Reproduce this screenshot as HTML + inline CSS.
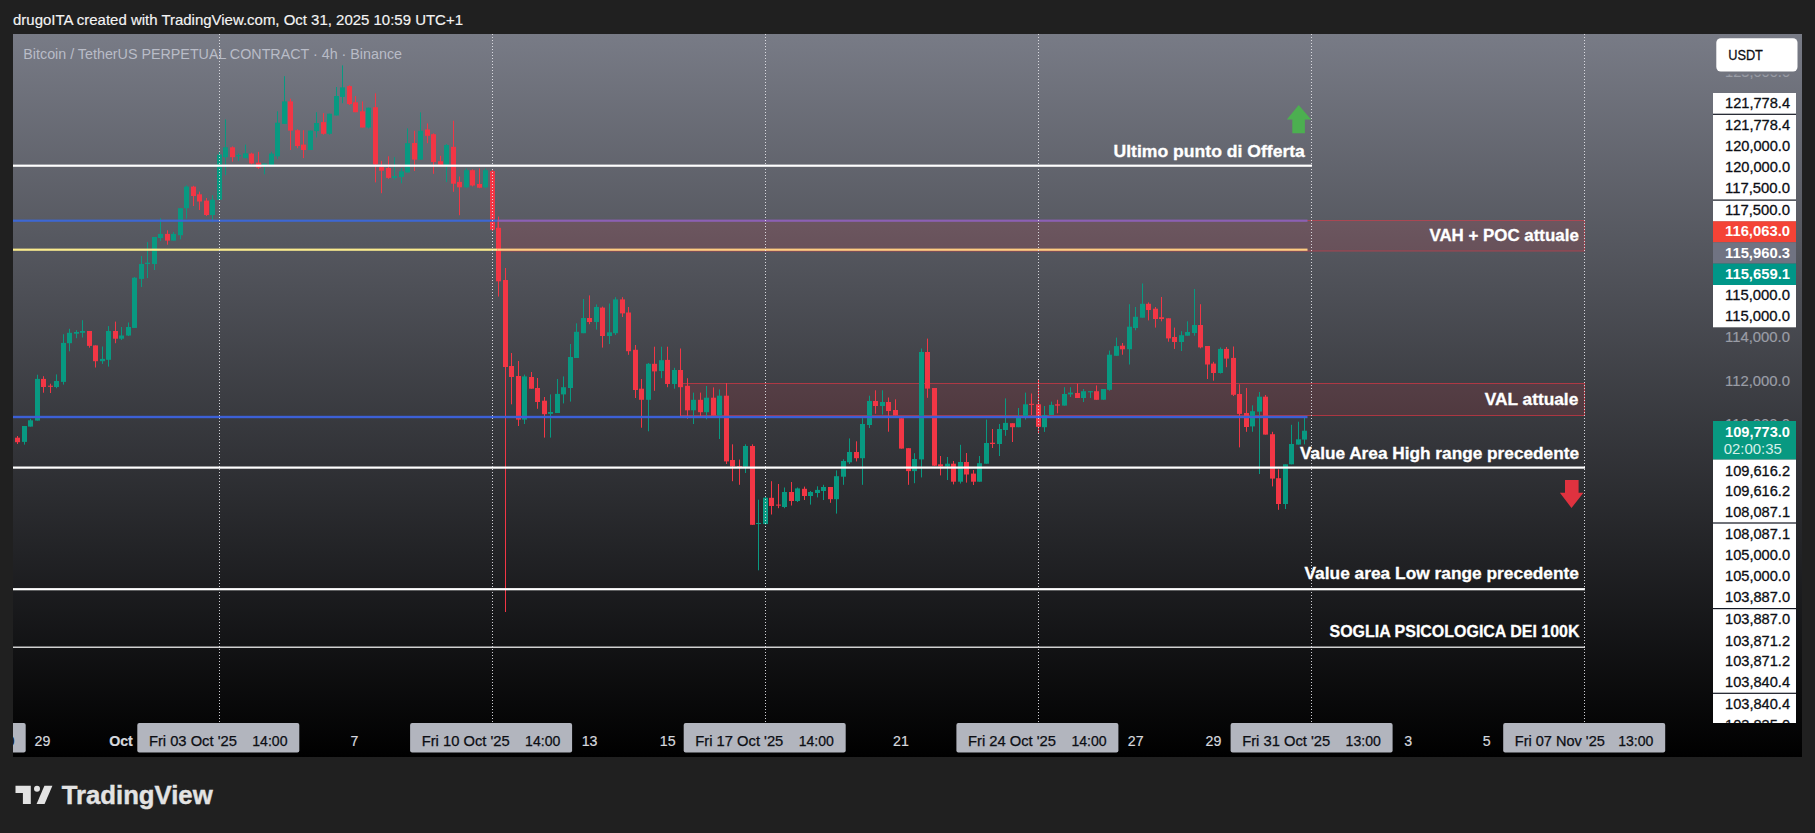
<!DOCTYPE html>
<html lang="it"><head><meta charset="utf-8"><title>BTCUSDT.P 4h - TradingView</title>
<style>
html,body{margin:0;padding:0;background:#202020;}
body{width:1815px;height:833px;overflow:hidden;position:relative;font-family:"Liberation Sans", sans-serif;}
svg{position:absolute;left:0;top:0;display:block}
text{font-family:"Liberation Sans", sans-serif;}
.ax{font-size:14.8px;fill:#0c0e14;text-anchor:end;stroke:#0c0e14;stroke-width:0.3px}
.axg{font-size:14.8px;fill:#9a9da6;text-anchor:end;stroke:#9a9da6;stroke-width:0.2px}
.axw{font-size:14.8px;fill:#ffffff;text-anchor:end;font-weight:bold}
.tl{font-size:14.2px;fill:#d6d8de;text-anchor:middle;stroke:#d6d8de;stroke-width:0.2px}
.tb{font-size:14.2px;fill:#0c0e14;stroke:#0c0e14;stroke-width:0.25px}
.an{font-size:16.8px;font-weight:bold;fill:#ffffff;text-anchor:end;stroke:#ffffff;stroke-width:0.3px}
</style></head><body>
<svg width="1815" height="833" viewBox="0 0 1815 833">
<defs>
<linearGradient id="bg" x1="0" y1="0" x2="0" y2="1"><stop offset="0" stop-color="#787b86"/><stop offset="1" stop-color="#000000"/></linearGradient>
<clipPath id="pane"><rect x="13" y="34" width="1789" height="689"/></clipPath>
<clipPath id="c123"><rect x="1700" y="74.6" width="102" height="10"/></clipPath>
<clipPath id="tax"><rect x="13" y="720" width="1789" height="37"/></clipPath>
<clipPath id="axc"><rect x="1700" y="72" width="102" height="651"/></clipPath>
</defs>
<rect x="0" y="0" width="1815" height="833" fill="#202020"/>
<rect x="13" y="34" width="1789" height="723" fill="url(#bg)"/>

<text x="13" y="24.5" font-size="14" fill="#f4f4f4" stroke="#f4f4f4" stroke-width="0.15" textLength="450" lengthAdjust="spacingAndGlyphs">drugoITA created with TradingView.com, Oct 31, 2025 10:59 UTC+1</text>
<text x="23.3" y="58.5" font-size="14" fill="#b9bcc7" textLength="378.7" lengthAdjust="spacingAndGlyphs">Bitcoin / TetherUS PERPETUAL CONTRACT · 4h · Binance</text>
<rect x="497.5" y="220.5" width="1087" height="30.5" fill="#f23645" fill-opacity="0.13" stroke="#f23645" stroke-opacity="0.5" stroke-width="1"/>
<rect x="680.5" y="383.5" width="904" height="32" fill="#f23645" fill-opacity="0.13" stroke="#f23645" stroke-opacity="0.6" stroke-width="1"/>
<g clip-path="url(#pane)" shape-rendering="auto">
<rect x="17.0" y="436.0" width="1" height="8.0" fill="#f23645"/>
<rect x="15.0" y="437.7" width="5" height="4.5" fill="#f23645"/>
<rect x="24.0" y="426.0" width="1" height="18.6" fill="#089981"/>
<rect x="22.0" y="426.0" width="5" height="15.9" fill="#089981"/>
<rect x="30.0" y="418.8" width="1" height="7.8" fill="#089981"/>
<rect x="28.0" y="420.3" width="5" height="6.3" fill="#089981"/>
<rect x="37.0" y="374.7" width="1" height="45.9" fill="#089981"/>
<rect x="35.0" y="378.9" width="5" height="41.7" fill="#089981"/>
<rect x="43.0" y="376.2" width="1" height="16.5" fill="#f23645"/>
<rect x="41.0" y="378.9" width="5" height="8.1" fill="#f23645"/>
<rect x="50.0" y="383.7" width="1" height="9.3" fill="#f23645"/>
<rect x="48.0" y="385.7" width="5" height="1.1" fill="#f23645"/>
<rect x="56.0" y="374.4" width="1" height="13.8" fill="#089981"/>
<rect x="54.0" y="381.0" width="5" height="6.0" fill="#089981"/>
<rect x="63.0" y="334.2" width="1" height="50.4" fill="#089981"/>
<rect x="61.0" y="342.9" width="5" height="39.0" fill="#089981"/>
<rect x="69.0" y="328.8" width="1" height="22.5" fill="#089981"/>
<rect x="67.0" y="332.8" width="5" height="10.4" fill="#089981"/>
<rect x="76.0" y="330.2" width="1" height="8.0" fill="#089981"/>
<rect x="74.0" y="332.0" width="5" height="1.7" fill="#089981"/>
<rect x="82.0" y="320.2" width="1" height="17.3" fill="#089981"/>
<rect x="80.0" y="331.0" width="5" height="1.8" fill="#089981"/>
<rect x="89.0" y="331.0" width="1" height="16.7" fill="#f23645"/>
<rect x="87.0" y="331.0" width="5" height="14.9" fill="#f23645"/>
<rect x="95.0" y="345.4" width="1" height="22.1" fill="#f23645"/>
<rect x="93.0" y="345.4" width="5" height="15.8" fill="#f23645"/>
<rect x="102.0" y="346.5" width="1" height="17.4" fill="#089981"/>
<rect x="100.0" y="358.9" width="5" height="2.3" fill="#089981"/>
<rect x="108.0" y="326.1" width="1" height="40.5" fill="#089981"/>
<rect x="106.0" y="331.0" width="5" height="28.8" fill="#089981"/>
<rect x="115.0" y="321.6" width="1" height="21.6" fill="#f23645"/>
<rect x="113.0" y="331.0" width="5" height="7.7" fill="#f23645"/>
<rect x="121.0" y="327.0" width="1" height="13.0" fill="#089981"/>
<rect x="119.0" y="335.5" width="5" height="3.2" fill="#089981"/>
<rect x="128.0" y="322.5" width="1" height="13.5" fill="#089981"/>
<rect x="126.0" y="327.0" width="5" height="8.5" fill="#089981"/>
<rect x="134.0" y="277.0" width="1" height="51.0" fill="#089981"/>
<rect x="132.0" y="277.7" width="5" height="50.2" fill="#089981"/>
<rect x="141.0" y="256.0" width="1" height="31.0" fill="#089981"/>
<rect x="139.0" y="264.0" width="5" height="14.9" fill="#089981"/>
<rect x="147.0" y="242.0" width="1" height="36.0" fill="#089981"/>
<rect x="145.0" y="262.7" width="5" height="1.3" fill="#089981"/>
<rect x="154.0" y="237.0" width="1" height="33.0" fill="#089981"/>
<rect x="152.0" y="237.0" width="5" height="27.0" fill="#089981"/>
<rect x="160.0" y="218.3" width="1" height="22.7" fill="#089981"/>
<rect x="158.0" y="233.9" width="5" height="4.1" fill="#089981"/>
<rect x="167.0" y="230.3" width="1" height="14.4" fill="#f23645"/>
<rect x="165.0" y="233.9" width="5" height="6.7" fill="#f23645"/>
<rect x="173.0" y="232.0" width="1" height="8.6" fill="#089981"/>
<rect x="171.0" y="233.9" width="5" height="6.7" fill="#089981"/>
<rect x="180.0" y="208.2" width="1" height="31.1" fill="#089981"/>
<rect x="178.0" y="208.2" width="5" height="27.0" fill="#089981"/>
<rect x="186.0" y="185.3" width="1" height="33.3" fill="#089981"/>
<rect x="184.0" y="186.6" width="5" height="21.6" fill="#089981"/>
<rect x="193.0" y="185.8" width="1" height="20.2" fill="#f23645"/>
<rect x="191.0" y="186.6" width="5" height="9.4" fill="#f23645"/>
<rect x="199.0" y="191.6" width="1" height="18.4" fill="#f23645"/>
<rect x="197.0" y="194.3" width="5" height="7.2" fill="#f23645"/>
<rect x="206.0" y="198.0" width="1" height="18.0" fill="#f23645"/>
<rect x="204.0" y="200.6" width="5" height="14.4" fill="#f23645"/>
<rect x="212.0" y="195.2" width="1" height="27.0" fill="#089981"/>
<rect x="210.0" y="199.7" width="5" height="15.3" fill="#089981"/>
<rect x="219.0" y="152.0" width="1" height="48.0" fill="#089981"/>
<rect x="217.0" y="154.5" width="5" height="45.2" fill="#089981"/>
<rect x="225.0" y="119.4" width="1" height="55.8" fill="#089981"/>
<rect x="223.0" y="147.3" width="5" height="9.9" fill="#089981"/>
<rect x="232.0" y="146.4" width="1" height="15.3" fill="#f23645"/>
<rect x="230.0" y="147.3" width="5" height="9.9" fill="#f23645"/>
<rect x="238.0" y="153.6" width="1" height="7.2" fill="#089981"/>
<rect x="236.0" y="155.0" width="5" height="1.3" fill="#089981"/>
<rect x="245.0" y="144.6" width="1" height="13.5" fill="#089981"/>
<rect x="243.0" y="153.3" width="5" height="4.8" fill="#089981"/>
<rect x="251.0" y="152.7" width="1" height="11.7" fill="#f23645"/>
<rect x="249.0" y="153.6" width="5" height="9.9" fill="#f23645"/>
<rect x="258.0" y="151.8" width="1" height="17.2" fill="#f23645"/>
<rect x="256.0" y="162.6" width="5" height="5.1" fill="#f23645"/>
<rect x="264.0" y="163.5" width="1" height="10.8" fill="#089981"/>
<rect x="262.0" y="163.5" width="5" height="1.8" fill="#089981"/>
<rect x="271.0" y="151.8" width="1" height="13.5" fill="#089981"/>
<rect x="269.0" y="153.6" width="5" height="11.7" fill="#089981"/>
<rect x="277.0" y="111.3" width="1" height="47.7" fill="#089981"/>
<rect x="275.0" y="122.7" width="5" height="33.6" fill="#089981"/>
<rect x="284.0" y="76.2" width="1" height="47.7" fill="#089981"/>
<rect x="282.0" y="101.4" width="5" height="22.5" fill="#089981"/>
<rect x="290.0" y="98.7" width="1" height="51.3" fill="#f23645"/>
<rect x="288.0" y="101.4" width="5" height="29.2" fill="#f23645"/>
<rect x="297.0" y="129.3" width="1" height="18.9" fill="#f23645"/>
<rect x="295.0" y="130.2" width="5" height="15.8" fill="#f23645"/>
<rect x="303.0" y="130.2" width="1" height="27.9" fill="#f23645"/>
<rect x="301.0" y="144.6" width="5" height="5.4" fill="#f23645"/>
<rect x="310.0" y="130.6" width="1" height="19.4" fill="#089981"/>
<rect x="308.0" y="130.6" width="5" height="19.4" fill="#089981"/>
<rect x="316.0" y="112.2" width="1" height="25.2" fill="#089981"/>
<rect x="314.0" y="123.0" width="5" height="8.1" fill="#089981"/>
<rect x="323.0" y="113.1" width="1" height="21.6" fill="#f23645"/>
<rect x="321.0" y="122.1" width="5" height="11.7" fill="#f23645"/>
<rect x="329.0" y="113.7" width="1" height="21.0" fill="#089981"/>
<rect x="327.0" y="113.7" width="5" height="20.1" fill="#089981"/>
<rect x="336.0" y="87.0" width="1" height="28.5" fill="#089981"/>
<rect x="334.0" y="96.0" width="5" height="19.5" fill="#089981"/>
<rect x="342.0" y="65.4" width="1" height="37.8" fill="#089981"/>
<rect x="340.0" y="87.4" width="5" height="9.5" fill="#089981"/>
<rect x="349.0" y="85.2" width="1" height="19.8" fill="#f23645"/>
<rect x="347.0" y="86.1" width="5" height="18.0" fill="#f23645"/>
<rect x="355.0" y="96.0" width="1" height="16.2" fill="#f23645"/>
<rect x="353.0" y="102.3" width="5" height="9.9" fill="#f23645"/>
<rect x="362.0" y="101.4" width="1" height="26.1" fill="#f23645"/>
<rect x="360.0" y="111.3" width="5" height="16.2" fill="#f23645"/>
<rect x="368.0" y="107.7" width="1" height="20.7" fill="#089981"/>
<rect x="366.0" y="107.7" width="5" height="19.8" fill="#089981"/>
<rect x="375.0" y="93.3" width="1" height="89.1" fill="#f23645"/>
<rect x="373.0" y="107.2" width="5" height="57.2" fill="#f23645"/>
<rect x="381.0" y="160.8" width="1" height="32.4" fill="#f23645"/>
<rect x="379.0" y="167.1" width="5" height="3.6" fill="#f23645"/>
<rect x="388.0" y="156.3" width="1" height="22.5" fill="#f23645"/>
<rect x="386.0" y="168.0" width="5" height="9.9" fill="#f23645"/>
<rect x="394.0" y="157.2" width="1" height="22.5" fill="#089981"/>
<rect x="392.0" y="176.1" width="5" height="1.8" fill="#089981"/>
<rect x="401.0" y="168.0" width="1" height="15.3" fill="#089981"/>
<rect x="399.0" y="171.3" width="5" height="5.7" fill="#089981"/>
<rect x="407.0" y="128.4" width="1" height="44.1" fill="#089981"/>
<rect x="405.0" y="143.2" width="5" height="29.3" fill="#089981"/>
<rect x="414.0" y="130.8" width="1" height="40.2" fill="#f23645"/>
<rect x="412.0" y="143.0" width="5" height="16.6" fill="#f23645"/>
<rect x="420.0" y="112.4" width="1" height="47.2" fill="#089981"/>
<rect x="418.0" y="130.8" width="5" height="28.8" fill="#089981"/>
<rect x="427.0" y="123.4" width="1" height="19.8" fill="#f23645"/>
<rect x="425.0" y="129.5" width="5" height="6.3" fill="#f23645"/>
<rect x="433.0" y="133.3" width="1" height="40.5" fill="#f23645"/>
<rect x="431.0" y="134.2" width="5" height="27.9" fill="#f23645"/>
<rect x="440.0" y="155.8" width="1" height="9.9" fill="#f23645"/>
<rect x="438.0" y="161.2" width="5" height="3.6" fill="#f23645"/>
<rect x="446.0" y="144.0" width="1" height="38.0" fill="#089981"/>
<rect x="444.0" y="145.0" width="5" height="19.8" fill="#089981"/>
<rect x="453.0" y="120.7" width="1" height="71.1" fill="#f23645"/>
<rect x="451.0" y="146.8" width="5" height="36.9" fill="#f23645"/>
<rect x="459.0" y="176.5" width="1" height="38.7" fill="#f23645"/>
<rect x="457.0" y="181.9" width="5" height="5.4" fill="#f23645"/>
<rect x="466.0" y="168.4" width="1" height="19.8" fill="#089981"/>
<rect x="464.0" y="170.2" width="5" height="17.1" fill="#089981"/>
<rect x="472.0" y="169.3" width="1" height="17.1" fill="#f23645"/>
<rect x="470.0" y="170.2" width="5" height="15.3" fill="#f23645"/>
<rect x="479.0" y="168.4" width="1" height="19.8" fill="#f23645"/>
<rect x="477.0" y="184.0" width="5" height="3.7" fill="#f23645"/>
<rect x="485.0" y="168.4" width="1" height="19.8" fill="#089981"/>
<rect x="483.0" y="170.2" width="5" height="17.1" fill="#089981"/>
<rect x="492.0" y="169.0" width="1" height="62.0" fill="#f23645"/>
<rect x="490.0" y="171.1" width="5" height="58.7" fill="#f23645"/>
<rect x="498.0" y="216.6" width="1" height="79.9" fill="#f23645"/>
<rect x="496.0" y="227.8" width="5" height="53.5" fill="#f23645"/>
<rect x="505.0" y="268.0" width="1" height="344.0" fill="#f23645"/>
<rect x="503.0" y="280.0" width="5" height="87.0" fill="#f23645"/>
<rect x="511.0" y="353.0" width="1" height="51.3" fill="#f23645"/>
<rect x="509.0" y="366.0" width="5" height="11.0" fill="#f23645"/>
<rect x="518.0" y="361.0" width="1" height="65.0" fill="#f23645"/>
<rect x="516.0" y="376.0" width="5" height="43.6" fill="#f23645"/>
<rect x="524.0" y="374.6" width="1" height="49.4" fill="#089981"/>
<rect x="522.0" y="376.4" width="5" height="43.2" fill="#089981"/>
<rect x="531.0" y="372.0" width="1" height="16.7" fill="#f23645"/>
<rect x="529.0" y="377.0" width="5" height="11.7" fill="#f23645"/>
<rect x="537.0" y="378.0" width="1" height="30.8" fill="#f23645"/>
<rect x="535.0" y="388.0" width="5" height="14.0" fill="#f23645"/>
<rect x="544.0" y="397.0" width="1" height="40.6" fill="#f23645"/>
<rect x="542.0" y="400.7" width="5" height="13.5" fill="#f23645"/>
<rect x="550.0" y="394.4" width="1" height="43.2" fill="#089981"/>
<rect x="548.0" y="412.0" width="5" height="1.9" fill="#089981"/>
<rect x="557.0" y="379.0" width="1" height="34.0" fill="#089981"/>
<rect x="555.0" y="393.9" width="5" height="19.1" fill="#089981"/>
<rect x="563.0" y="376.4" width="1" height="27.0" fill="#089981"/>
<rect x="561.0" y="387.2" width="5" height="7.2" fill="#089981"/>
<rect x="570.0" y="344.0" width="1" height="57.6" fill="#089981"/>
<rect x="568.0" y="357.0" width="5" height="31.0" fill="#089981"/>
<rect x="576.0" y="323.3" width="1" height="34.7" fill="#089981"/>
<rect x="574.0" y="331.8" width="5" height="26.2" fill="#089981"/>
<rect x="583.0" y="299.0" width="1" height="34.2" fill="#089981"/>
<rect x="581.0" y="318.0" width="5" height="15.2" fill="#089981"/>
<rect x="589.0" y="295.4" width="1" height="28.8" fill="#f23645"/>
<rect x="587.0" y="318.0" width="5" height="4.0" fill="#f23645"/>
<rect x="596.0" y="304.4" width="1" height="25.2" fill="#089981"/>
<rect x="594.0" y="307.0" width="5" height="15.0" fill="#089981"/>
<rect x="602.0" y="306.6" width="1" height="41.0" fill="#f23645"/>
<rect x="600.0" y="307.6" width="5" height="28.4" fill="#f23645"/>
<rect x="609.0" y="303.5" width="1" height="40.5" fill="#089981"/>
<rect x="607.0" y="332.3" width="5" height="3.7" fill="#089981"/>
<rect x="615.0" y="297.2" width="1" height="37.8" fill="#089981"/>
<rect x="613.0" y="299.4" width="5" height="33.8" fill="#089981"/>
<rect x="622.0" y="297.2" width="1" height="19.8" fill="#f23645"/>
<rect x="620.0" y="299.4" width="5" height="14.0" fill="#f23645"/>
<rect x="628.0" y="307.0" width="1" height="47.8" fill="#f23645"/>
<rect x="626.0" y="312.5" width="5" height="38.7" fill="#f23645"/>
<rect x="635.0" y="345.0" width="1" height="53.0" fill="#f23645"/>
<rect x="633.0" y="349.8" width="5" height="40.2" fill="#f23645"/>
<rect x="641.0" y="379.0" width="1" height="48.7" fill="#f23645"/>
<rect x="639.0" y="388.7" width="5" height="11.1" fill="#f23645"/>
<rect x="648.0" y="363.0" width="1" height="68.3" fill="#089981"/>
<rect x="646.0" y="363.8" width="5" height="36.0" fill="#089981"/>
<rect x="654.0" y="346.7" width="1" height="44.1" fill="#f23645"/>
<rect x="652.0" y="363.8" width="5" height="7.6" fill="#f23645"/>
<rect x="661.0" y="346.7" width="1" height="31.5" fill="#089981"/>
<rect x="659.0" y="360.2" width="5" height="10.8" fill="#089981"/>
<rect x="667.0" y="346.7" width="1" height="40.5" fill="#f23645"/>
<rect x="665.0" y="359.9" width="5" height="24.1" fill="#f23645"/>
<rect x="674.0" y="367.8" width="1" height="20.9" fill="#089981"/>
<rect x="672.0" y="370.0" width="5" height="14.0" fill="#089981"/>
<rect x="680.0" y="348.5" width="1" height="67.5" fill="#f23645"/>
<rect x="678.0" y="370.0" width="5" height="17.2" fill="#f23645"/>
<rect x="687.0" y="378.2" width="1" height="40.5" fill="#f23645"/>
<rect x="685.0" y="385.8" width="5" height="24.5" fill="#f23645"/>
<rect x="693.0" y="392.6" width="1" height="31.4" fill="#089981"/>
<rect x="691.0" y="399.8" width="5" height="10.5" fill="#089981"/>
<rect x="700.0" y="392.6" width="1" height="23.4" fill="#f23645"/>
<rect x="698.0" y="399.8" width="5" height="12.4" fill="#f23645"/>
<rect x="706.0" y="386.0" width="1" height="33.3" fill="#089981"/>
<rect x="704.0" y="397.7" width="5" height="14.5" fill="#089981"/>
<rect x="713.0" y="387.4" width="1" height="28.3" fill="#f23645"/>
<rect x="711.0" y="397.7" width="5" height="18.0" fill="#f23645"/>
<rect x="719.0" y="389.4" width="1" height="49.6" fill="#089981"/>
<rect x="717.0" y="395.7" width="5" height="19.8" fill="#089981"/>
<rect x="726.0" y="383.0" width="1" height="81.0" fill="#f23645"/>
<rect x="724.0" y="395.7" width="5" height="65.7" fill="#f23645"/>
<rect x="732.0" y="444.3" width="1" height="36.9" fill="#f23645"/>
<rect x="730.0" y="460.0" width="5" height="6.5" fill="#f23645"/>
<rect x="739.0" y="459.6" width="1" height="25.2" fill="#f23645"/>
<rect x="737.0" y="466.3" width="5" height="1.0" fill="#f23645"/>
<rect x="745.0" y="444.3" width="1" height="28.7" fill="#089981"/>
<rect x="743.0" y="446.0" width="5" height="20.8" fill="#089981"/>
<rect x="752.0" y="444.3" width="1" height="80.7" fill="#f23645"/>
<rect x="750.0" y="446.0" width="5" height="78.8" fill="#f23645"/>
<rect x="758.0" y="499.7" width="1" height="70.6" fill="#089981"/>
<rect x="756.0" y="523.0" width="5" height="1.0" fill="#089981"/>
<rect x="765.0" y="497.0" width="1" height="27.5" fill="#089981"/>
<rect x="763.0" y="497.7" width="5" height="26.3" fill="#089981"/>
<rect x="771.0" y="481.2" width="1" height="33.3" fill="#f23645"/>
<rect x="769.0" y="497.8" width="5" height="8.2" fill="#f23645"/>
<rect x="778.0" y="484.0" width="1" height="24.2" fill="#f23645"/>
<rect x="776.0" y="504.6" width="5" height="1.0" fill="#f23645"/>
<rect x="784.0" y="487.5" width="1" height="20.7" fill="#089981"/>
<rect x="782.0" y="492.0" width="5" height="15.0" fill="#089981"/>
<rect x="791.0" y="482.0" width="1" height="23.5" fill="#f23645"/>
<rect x="789.0" y="492.0" width="5" height="9.0" fill="#f23645"/>
<rect x="797.0" y="487.5" width="1" height="14.5" fill="#089981"/>
<rect x="795.0" y="488.4" width="5" height="12.6" fill="#089981"/>
<rect x="804.0" y="486.6" width="1" height="13.4" fill="#f23645"/>
<rect x="802.0" y="488.8" width="5" height="7.2" fill="#f23645"/>
<rect x="810.0" y="491.0" width="1" height="13.6" fill="#089981"/>
<rect x="808.0" y="492.0" width="5" height="4.0" fill="#089981"/>
<rect x="817.0" y="486.3" width="1" height="11.1" fill="#089981"/>
<rect x="815.0" y="489.9" width="5" height="3.1" fill="#089981"/>
<rect x="823.0" y="484.8" width="1" height="15.2" fill="#089981"/>
<rect x="821.0" y="487.0" width="5" height="4.0" fill="#089981"/>
<rect x="830.0" y="487.0" width="1" height="15.8" fill="#f23645"/>
<rect x="828.0" y="487.0" width="5" height="12.2" fill="#f23645"/>
<rect x="836.0" y="470.4" width="1" height="43.2" fill="#089981"/>
<rect x="834.0" y="476.2" width="5" height="23.0" fill="#089981"/>
<rect x="843.0" y="459.3" width="1" height="25.5" fill="#089981"/>
<rect x="841.0" y="461.0" width="5" height="15.7" fill="#089981"/>
<rect x="849.0" y="438.4" width="1" height="25.6" fill="#089981"/>
<rect x="847.0" y="452.0" width="5" height="10.3" fill="#089981"/>
<rect x="856.0" y="441.3" width="1" height="20.1" fill="#f23645"/>
<rect x="854.0" y="452.0" width="5" height="6.2" fill="#f23645"/>
<rect x="862.0" y="418.2" width="1" height="66.6" fill="#089981"/>
<rect x="860.0" y="424.0" width="5" height="34.2" fill="#089981"/>
<rect x="869.0" y="395.7" width="1" height="32.3" fill="#089981"/>
<rect x="867.0" y="401.0" width="5" height="24.0" fill="#089981"/>
<rect x="875.0" y="390.3" width="1" height="23.4" fill="#f23645"/>
<rect x="873.0" y="401.0" width="5" height="5.0" fill="#f23645"/>
<rect x="882.0" y="390.3" width="1" height="24.3" fill="#089981"/>
<rect x="880.0" y="402.0" width="5" height="4.0" fill="#089981"/>
<rect x="888.0" y="397.5" width="1" height="34.2" fill="#f23645"/>
<rect x="886.0" y="402.0" width="5" height="9.0" fill="#f23645"/>
<rect x="895.0" y="399.3" width="1" height="16.2" fill="#f23645"/>
<rect x="893.0" y="410.0" width="5" height="5.5" fill="#f23645"/>
<rect x="901.0" y="418.2" width="1" height="30.4" fill="#f23645"/>
<rect x="899.0" y="418.2" width="5" height="30.4" fill="#f23645"/>
<rect x="908.0" y="448.2" width="1" height="36.6" fill="#f23645"/>
<rect x="906.0" y="448.2" width="5" height="22.9" fill="#f23645"/>
<rect x="914.0" y="453.2" width="1" height="30.0" fill="#089981"/>
<rect x="912.0" y="459.0" width="5" height="12.1" fill="#089981"/>
<rect x="921.0" y="348.5" width="1" height="128.9" fill="#089981"/>
<rect x="919.0" y="352.0" width="5" height="107.4" fill="#089981"/>
<rect x="927.0" y="338.6" width="1" height="59.2" fill="#f23645"/>
<rect x="925.0" y="352.0" width="5" height="36.6" fill="#f23645"/>
<rect x="934.0" y="388.0" width="1" height="78.0" fill="#f23645"/>
<rect x="932.0" y="388.0" width="5" height="77.7" fill="#f23645"/>
<rect x="940.0" y="456.0" width="1" height="19.4" fill="#f23645"/>
<rect x="938.0" y="464.3" width="5" height="2.1" fill="#f23645"/>
<rect x="947.0" y="457.0" width="1" height="23.0" fill="#089981"/>
<rect x="945.0" y="463.7" width="5" height="2.7" fill="#089981"/>
<rect x="953.0" y="461.0" width="1" height="23.4" fill="#f23645"/>
<rect x="951.0" y="463.7" width="5" height="18.0" fill="#f23645"/>
<rect x="960.0" y="444.8" width="1" height="38.7" fill="#089981"/>
<rect x="958.0" y="462.0" width="5" height="19.7" fill="#089981"/>
<rect x="966.0" y="453.0" width="1" height="29.6" fill="#f23645"/>
<rect x="964.0" y="462.0" width="5" height="12.5" fill="#f23645"/>
<rect x="973.0" y="470.0" width="1" height="15.0" fill="#f23645"/>
<rect x="971.0" y="473.6" width="5" height="8.1" fill="#f23645"/>
<rect x="979.0" y="456.0" width="1" height="25.7" fill="#089981"/>
<rect x="977.0" y="463.2" width="5" height="18.5" fill="#089981"/>
<rect x="986.0" y="419.6" width="1" height="44.1" fill="#089981"/>
<rect x="984.0" y="443.0" width="5" height="20.7" fill="#089981"/>
<rect x="992.0" y="429.0" width="1" height="19.0" fill="#f23645"/>
<rect x="990.0" y="442.7" width="5" height="1.3" fill="#f23645"/>
<rect x="999.0" y="424.0" width="1" height="32.0" fill="#089981"/>
<rect x="997.0" y="429.0" width="5" height="15.0" fill="#089981"/>
<rect x="1005.0" y="398.4" width="1" height="37.4" fill="#089981"/>
<rect x="1003.0" y="422.9" width="5" height="7.1" fill="#089981"/>
<rect x="1012.0" y="423.2" width="1" height="18.8" fill="#f23645"/>
<rect x="1010.0" y="423.2" width="5" height="4.0" fill="#f23645"/>
<rect x="1018.0" y="408.0" width="1" height="19.2" fill="#089981"/>
<rect x="1016.0" y="417.0" width="5" height="10.2" fill="#089981"/>
<rect x="1025.0" y="392.6" width="1" height="27.0" fill="#089981"/>
<rect x="1023.0" y="404.3" width="5" height="12.7" fill="#089981"/>
<rect x="1031.0" y="393.5" width="1" height="21.5" fill="#f23645"/>
<rect x="1029.0" y="403.8" width="5" height="1.1" fill="#f23645"/>
<rect x="1038.0" y="379.0" width="1" height="54.0" fill="#f23645"/>
<rect x="1036.0" y="404.3" width="5" height="22.5" fill="#f23645"/>
<rect x="1044.0" y="406.0" width="1" height="25.9" fill="#089981"/>
<rect x="1042.0" y="415.0" width="5" height="12.2" fill="#089981"/>
<rect x="1051.0" y="401.6" width="1" height="13.4" fill="#089981"/>
<rect x="1049.0" y="404.9" width="5" height="10.1" fill="#089981"/>
<rect x="1057.0" y="399.8" width="1" height="13.5" fill="#f23645"/>
<rect x="1055.0" y="404.3" width="5" height="1.3" fill="#f23645"/>
<rect x="1064.0" y="387.2" width="1" height="18.4" fill="#089981"/>
<rect x="1062.0" y="394.0" width="5" height="11.6" fill="#089981"/>
<rect x="1070.0" y="387.2" width="1" height="9.8" fill="#089981"/>
<rect x="1068.0" y="392.6" width="5" height="1.8" fill="#089981"/>
<rect x="1077.0" y="383.6" width="1" height="14.4" fill="#f23645"/>
<rect x="1075.0" y="393.0" width="5" height="5.0" fill="#f23645"/>
<rect x="1083.0" y="389.0" width="1" height="13.0" fill="#089981"/>
<rect x="1081.0" y="391.2" width="5" height="6.8" fill="#089981"/>
<rect x="1090.0" y="391.2" width="1" height="6.8" fill="#089981"/>
<rect x="1088.0" y="391.2" width="5" height="1.1" fill="#089981"/>
<rect x="1096.0" y="385.4" width="1" height="14.4" fill="#f23645"/>
<rect x="1094.0" y="391.2" width="5" height="8.6" fill="#f23645"/>
<rect x="1103.0" y="389.0" width="1" height="10.8" fill="#089981"/>
<rect x="1101.0" y="389.0" width="5" height="10.7" fill="#089981"/>
<rect x="1109.0" y="350.6" width="1" height="40.1" fill="#089981"/>
<rect x="1107.0" y="354.7" width="5" height="35.1" fill="#089981"/>
<rect x="1116.0" y="337.6" width="1" height="18.2" fill="#089981"/>
<rect x="1114.0" y="346.1" width="5" height="9.7" fill="#089981"/>
<rect x="1122.0" y="343.0" width="1" height="11.7" fill="#f23645"/>
<rect x="1120.0" y="345.7" width="5" height="3.6" fill="#f23645"/>
<rect x="1129.0" y="304.2" width="1" height="60.3" fill="#089981"/>
<rect x="1127.0" y="326.7" width="5" height="22.5" fill="#089981"/>
<rect x="1135.0" y="307.0" width="1" height="23.3" fill="#089981"/>
<rect x="1133.0" y="316.8" width="5" height="11.2" fill="#089981"/>
<rect x="1142.0" y="283.5" width="1" height="34.2" fill="#089981"/>
<rect x="1140.0" y="303.8" width="5" height="13.9" fill="#089981"/>
<rect x="1148.0" y="302.4" width="1" height="18.0" fill="#f23645"/>
<rect x="1146.0" y="303.8" width="5" height="6.2" fill="#f23645"/>
<rect x="1155.0" y="307.0" width="1" height="20.6" fill="#f23645"/>
<rect x="1153.0" y="308.7" width="5" height="10.3" fill="#f23645"/>
<rect x="1161.0" y="297.0" width="1" height="24.3" fill="#f23645"/>
<rect x="1159.0" y="317.2" width="5" height="1.8" fill="#f23645"/>
<rect x="1168.0" y="318.3" width="1" height="23.4" fill="#f23645"/>
<rect x="1166.0" y="318.3" width="5" height="20.1" fill="#f23645"/>
<rect x="1174.0" y="327.6" width="1" height="21.3" fill="#f23645"/>
<rect x="1172.0" y="337.0" width="5" height="5.0" fill="#f23645"/>
<rect x="1181.0" y="331.2" width="1" height="19.8" fill="#089981"/>
<rect x="1179.0" y="335.2" width="5" height="6.8" fill="#089981"/>
<rect x="1187.0" y="321.3" width="1" height="14.4" fill="#089981"/>
<rect x="1185.0" y="332.0" width="5" height="3.7" fill="#089981"/>
<rect x="1194.0" y="289.0" width="1" height="46.7" fill="#089981"/>
<rect x="1192.0" y="325.0" width="5" height="8.0" fill="#089981"/>
<rect x="1200.0" y="304.2" width="1" height="44.1" fill="#f23645"/>
<rect x="1198.0" y="325.0" width="5" height="22.4" fill="#f23645"/>
<rect x="1207.0" y="346.0" width="1" height="33.0" fill="#f23645"/>
<rect x="1205.0" y="346.0" width="5" height="18.5" fill="#f23645"/>
<rect x="1213.0" y="361.8" width="1" height="18.9" fill="#f23645"/>
<rect x="1211.0" y="363.6" width="5" height="9.4" fill="#f23645"/>
<rect x="1220.0" y="347.4" width="1" height="26.1" fill="#089981"/>
<rect x="1218.0" y="348.9" width="5" height="24.1" fill="#089981"/>
<rect x="1226.0" y="347.0" width="1" height="20.2" fill="#f23645"/>
<rect x="1224.0" y="348.9" width="5" height="9.7" fill="#f23645"/>
<rect x="1233.0" y="346.5" width="1" height="49.5" fill="#f23645"/>
<rect x="1231.0" y="357.9" width="5" height="36.9" fill="#f23645"/>
<rect x="1239.0" y="384.3" width="1" height="63.1" fill="#f23645"/>
<rect x="1237.0" y="394.0" width="5" height="19.9" fill="#f23645"/>
<rect x="1246.0" y="388.0" width="1" height="43.8" fill="#f23645"/>
<rect x="1244.0" y="413.0" width="5" height="14.0" fill="#f23645"/>
<rect x="1252.0" y="405.3" width="1" height="26.5" fill="#089981"/>
<rect x="1250.0" y="411.2" width="5" height="15.2" fill="#089981"/>
<rect x="1259.0" y="392.0" width="1" height="82.0" fill="#089981"/>
<rect x="1257.0" y="396.7" width="5" height="14.9" fill="#089981"/>
<rect x="1265.0" y="395.0" width="1" height="39.6" fill="#f23645"/>
<rect x="1263.0" y="396.7" width="5" height="37.9" fill="#f23645"/>
<rect x="1272.0" y="431.8" width="1" height="54.6" fill="#f23645"/>
<rect x="1270.0" y="434.2" width="5" height="44.4" fill="#f23645"/>
<rect x="1278.0" y="469.3" width="1" height="40.5" fill="#f23645"/>
<rect x="1276.0" y="478.2" width="5" height="25.8" fill="#f23645"/>
<rect x="1285.0" y="464.3" width="1" height="44.7" fill="#089981"/>
<rect x="1283.0" y="464.3" width="5" height="39.7" fill="#089981"/>
<rect x="1291.0" y="424.8" width="1" height="39.5" fill="#089981"/>
<rect x="1289.0" y="444.0" width="5" height="20.3" fill="#089981"/>
<rect x="1298.0" y="421.7" width="1" height="22.9" fill="#089981"/>
<rect x="1296.0" y="439.3" width="5" height="5.3" fill="#089981"/>
<rect x="1304.0" y="417.0" width="1" height="27.3" fill="#089981"/>
<rect x="1302.0" y="430.7" width="5" height="8.9" fill="#089981"/>
</g>
<g>
<rect x="13" y="164.6" width="1299" height="2.2" fill="#ffffff"/>
<rect x="13" y="219.6" width="484.5" height="2.2" fill="#3e67d2"/>
<rect x="497.5" y="219.6" width="810" height="2.2" fill="#8c60b4"/>
<rect x="13" y="248.6" width="484.5" height="2.2" fill="#fbec8e"/>
<rect x="497.5" y="248.6" width="810" height="2.2" fill="#ffcd82"/>
<rect x="13" y="415.8" width="1294.5" height="2.4" fill="#3c60d6"/>
<rect x="13" y="466.5" width="1572" height="2.2" fill="#ffffff"/>
<rect x="13" y="588.1" width="1572" height="2.2" fill="#ffffff"/>
<rect x="13" y="646.6" width="1572" height="1.2" fill="#ffffff"/>
<line x1="219.5" y1="34" x2="219.5" y2="723" stroke="#e6e6eb" stroke-opacity="0.9" stroke-width="1" stroke-dasharray="1 2"/>
<line x1="492.5" y1="34" x2="492.5" y2="723" stroke="#e6e6eb" stroke-opacity="0.9" stroke-width="1" stroke-dasharray="1 2"/>
<line x1="765.5" y1="34" x2="765.5" y2="723" stroke="#e6e6eb" stroke-opacity="0.9" stroke-width="1" stroke-dasharray="1 2"/>
<line x1="1038.5" y1="34" x2="1038.5" y2="723" stroke="#e6e6eb" stroke-opacity="0.9" stroke-width="1" stroke-dasharray="1 2"/>
<line x1="1311.5" y1="34" x2="1311.5" y2="723" stroke="#e6e6eb" stroke-opacity="0.9" stroke-width="1" stroke-dasharray="1 2"/>
<line x1="1584.5" y1="34" x2="1584.5" y2="723" stroke="#e6e6eb" stroke-opacity="0.9" stroke-width="1" stroke-dasharray="1 2"/>
<path d="M1298.7 104.9 L1311.1 119.5 L1304.9 119.5 L1304.9 133.3 L1292.3 133.3 L1292.3 119.5 L1286.8 119.5 Z" fill="#4caf50"/>
<path d="M1565 480 L1578.6 480 L1578.6 492.8 L1583.4 492.8 L1571.5 507.9 L1559.9 492.8 L1565 492.8 Z" fill="#e0323f"/>
<text class="an" x="1304.9" y="156.5" font-size="16.8" textLength="191.4" lengthAdjust="spacingAndGlyphs">Ultimo punto di Offerta</text>
<text class="an" x="1578.8" y="240.7" font-size="16.8" textLength="149.4" lengthAdjust="spacingAndGlyphs">VAH + POC attuale</text>
<text class="an" x="1578.3" y="404.9" font-size="16.8" textLength="93.6" lengthAdjust="spacingAndGlyphs">VAL attuale</text>
<text class="an" x="1579" y="458.7" font-size="16.8" textLength="279" lengthAdjust="spacingAndGlyphs">Value Area High range precedente</text>
<text class="an" x="1579" y="579.4" font-size="16.8" textLength="274.5" lengthAdjust="spacingAndGlyphs">Value area Low range precedente</text>
<text class="an" x="1579.5" y="637.3" font-size="16.8" textLength="250" lengthAdjust="spacingAndGlyphs">SOGLIA PSICOLOGICA DEI 100K</text>
</g>
<g clip-path="url(#axc)">
<g clip-path="url(#c123)">
<text class="axg" x="1790" y="77.3" textLength="64.9" lengthAdjust="spacingAndGlyphs">123,000.0</text>
</g>
<text class="axg" x="1790" y="341.8" textLength="64.9" lengthAdjust="spacingAndGlyphs">114,000.0</text>
<text class="axg" x="1790" y="386.1" textLength="64.9" lengthAdjust="spacingAndGlyphs">112,000.0</text>
<text class="axg" x="1790" y="429.3" textLength="64.9" lengthAdjust="spacingAndGlyphs">110,000.0</text>
<rect x="1713" y="93" width="83" height="128.5" fill="#ffffff"/>
<rect x="1713" y="221.3" width="83" height="21" fill="#f44336"/>
<rect x="1713" y="242.3" width="83" height="21.3" fill="#707382"/>
<rect x="1713" y="263.6" width="83" height="21.4" fill="#009688"/>
<rect x="1713" y="285" width="83" height="42.3" fill="#ffffff"/>
<rect x="1713" y="421" width="83" height="38.6" fill="#089981"/>
<rect x="1713" y="459.6" width="83" height="263.4" fill="#ffffff"/>
<rect x="1713" y="113.7" width="83" height="1.2" fill="#131722"/>
<rect x="1713" y="199.5" width="83" height="1.2" fill="#131722"/>
<rect x="1713" y="522.4" width="83" height="1.2" fill="#131722"/>
<rect x="1713" y="608.0" width="83" height="1.2" fill="#131722"/>
<rect x="1713" y="692.6999999999999" width="83" height="1.2" fill="#131722"/>
<text class="ax" x="1790" y="107.8" textLength="64.9" lengthAdjust="spacingAndGlyphs">121,778.4</text>
<text class="ax" x="1790" y="129.8" textLength="64.9" lengthAdjust="spacingAndGlyphs">121,778.4</text>
<text class="ax" x="1790" y="151.0" textLength="64.9" lengthAdjust="spacingAndGlyphs">120,000.0</text>
<text class="ax" x="1790" y="172.0" textLength="64.9" lengthAdjust="spacingAndGlyphs">120,000.0</text>
<text class="ax" x="1790" y="193.1" textLength="64.9" lengthAdjust="spacingAndGlyphs">117,500.0</text>
<text class="ax" x="1790" y="214.9" textLength="64.9" lengthAdjust="spacingAndGlyphs">117,500.0</text>
<text class="ax" x="1790" y="300.3" textLength="64.9" lengthAdjust="spacingAndGlyphs">115,000.0</text>
<text class="ax" x="1790" y="321.3" textLength="64.9" lengthAdjust="spacingAndGlyphs">115,000.0</text>
<text class="ax" x="1790" y="475.5" textLength="64.9" lengthAdjust="spacingAndGlyphs">109,616.2</text>
<text class="ax" x="1790" y="495.9" textLength="64.9" lengthAdjust="spacingAndGlyphs">109,616.2</text>
<text class="ax" x="1790" y="517.3" textLength="64.9" lengthAdjust="spacingAndGlyphs">108,087.1</text>
<text class="ax" x="1790" y="539.0" textLength="64.9" lengthAdjust="spacingAndGlyphs">108,087.1</text>
<text class="ax" x="1790" y="560.0" textLength="64.9" lengthAdjust="spacingAndGlyphs">105,000.0</text>
<text class="ax" x="1790" y="581.2" textLength="64.9" lengthAdjust="spacingAndGlyphs">105,000.0</text>
<text class="ax" x="1790" y="602.3" textLength="64.9" lengthAdjust="spacingAndGlyphs">103,887.0</text>
<text class="ax" x="1790" y="624.3" textLength="64.9" lengthAdjust="spacingAndGlyphs">103,887.0</text>
<text class="ax" x="1790" y="645.7" textLength="64.9" lengthAdjust="spacingAndGlyphs">103,871.2</text>
<text class="ax" x="1790" y="666.3" textLength="64.9" lengthAdjust="spacingAndGlyphs">103,871.2</text>
<text class="ax" x="1790" y="687.3" textLength="64.9" lengthAdjust="spacingAndGlyphs">103,840.4</text>
<text class="ax" x="1790" y="709.2" textLength="64.9" lengthAdjust="spacingAndGlyphs">103,840.4</text>
<text class="ax" x="1790" y="730.3" textLength="64.9" lengthAdjust="spacingAndGlyphs">103,835.0</text>
<text class="axw" x="1790" y="236.3" textLength="65" lengthAdjust="spacingAndGlyphs">116,063.0</text>
<text class="axw" x="1790" y="258.0" textLength="65" lengthAdjust="spacingAndGlyphs">115,960.3</text>
<text class="axw" x="1790" y="279.3" textLength="65" lengthAdjust="spacingAndGlyphs">115,659.1</text>
<text class="axw" x="1790" y="436.7" textLength="65" lengthAdjust="spacingAndGlyphs">109,773.0</text>
<text x="1723.7" y="453.8" font-size="14.8" fill="#d5f0ea" textLength="58.2" lengthAdjust="spacingAndGlyphs">02:00:35</text>
</g>
<rect x="1716.3" y="38.3" width="81.2" height="33.2" rx="4.5" fill="#ffffff"/>
<text x="1728.2" y="59.7" font-size="14.7" fill="#0c0e14" stroke="#0c0e14" stroke-width="0.3" textLength="34.7" lengthAdjust="spacingAndGlyphs">USDT</text>
<g>
<text class="tl" x="42.5" y="745.6">29</text>
<text class="tl" x="121" y="745.6" font-weight="bold">Oct</text>
<text class="tl" x="354.5" y="745.6">7</text>
<text class="tl" x="589.6" y="745.6">13</text>
<text class="tl" x="667.7" y="745.6">15</text>
<text class="tl" x="901" y="745.6">21</text>
<text class="tl" x="1135.7" y="745.6">27</text>
<text class="tl" x="1213.5" y="745.6">29</text>
<text class="tl" x="1408.3" y="745.6">3</text>
<text class="tl" x="1486.6" y="745.6">5</text>
<g clip-path="url(#tax)"><rect x="5" y="723" width="20.7" height="29.6" rx="2" fill="#b2b5be"/>
<text class="tb" x="6.6" y="745.6">0</text></g>
<rect x="137.3" y="723" width="162" height="29.6" rx="2" fill="#b2b5be"/>
<text class="tb" x="148.9" y="745.6" textLength="88" lengthAdjust="spacingAndGlyphs">Fri 03 Oct '25</text>
<text class="tb" x="287.5" y="745.6" text-anchor="end" textLength="35.2" lengthAdjust="spacingAndGlyphs">14:00</text>
<rect x="410.1" y="723" width="162" height="29.6" rx="2" fill="#b2b5be"/>
<text class="tb" x="421.7" y="745.6" textLength="88" lengthAdjust="spacingAndGlyphs">Fri 10 Oct '25</text>
<text class="tb" x="560.3" y="745.6" text-anchor="end" textLength="35.2" lengthAdjust="spacingAndGlyphs">14:00</text>
<rect x="683.7" y="723" width="162" height="29.6" rx="2" fill="#b2b5be"/>
<text class="tb" x="695.3" y="745.6" textLength="88" lengthAdjust="spacingAndGlyphs">Fri 17 Oct '25</text>
<text class="tb" x="833.9" y="745.6" text-anchor="end" textLength="35.2" lengthAdjust="spacingAndGlyphs">14:00</text>
<rect x="956.4" y="723" width="162" height="29.6" rx="2" fill="#b2b5be"/>
<text class="tb" x="968.0" y="745.6" textLength="88" lengthAdjust="spacingAndGlyphs">Fri 24 Oct '25</text>
<text class="tb" x="1106.6" y="745.6" text-anchor="end" textLength="35.2" lengthAdjust="spacingAndGlyphs">14:00</text>
<rect x="1230.6" y="723" width="162" height="29.6" rx="2" fill="#b2b5be"/>
<text class="tb" x="1242.2" y="745.6" textLength="88" lengthAdjust="spacingAndGlyphs">Fri 31 Oct '25</text>
<text class="tb" x="1380.8" y="745.6" text-anchor="end" textLength="35.2" lengthAdjust="spacingAndGlyphs">13:00</text>
<rect x="1503.2" y="723" width="162" height="29.6" rx="2" fill="#b2b5be"/>
<text class="tb" x="1514.8" y="745.6" textLength="90" lengthAdjust="spacingAndGlyphs">Fri 07 Nov '25</text>
<text class="tb" x="1653.4" y="745.6" text-anchor="end" textLength="35.2" lengthAdjust="spacingAndGlyphs">13:00</text>
</g>
<g fill="#e3e3e3">
<path d="M15.5 785.8 H30.8 V804 H22.9 V792.9 H15.5 Z"/>
<circle cx="37" cy="788.8" r="3"/>
<path d="M44.4 785.8 H52.4 L44.6 804 H36.6 Z"/>
<text x="61.7" y="804" font-size="25.4" font-weight="bold" stroke="#e3e3e3" stroke-width="0.4" textLength="151" lengthAdjust="spacingAndGlyphs">TradingView</text>
</g>
</svg></body></html>
